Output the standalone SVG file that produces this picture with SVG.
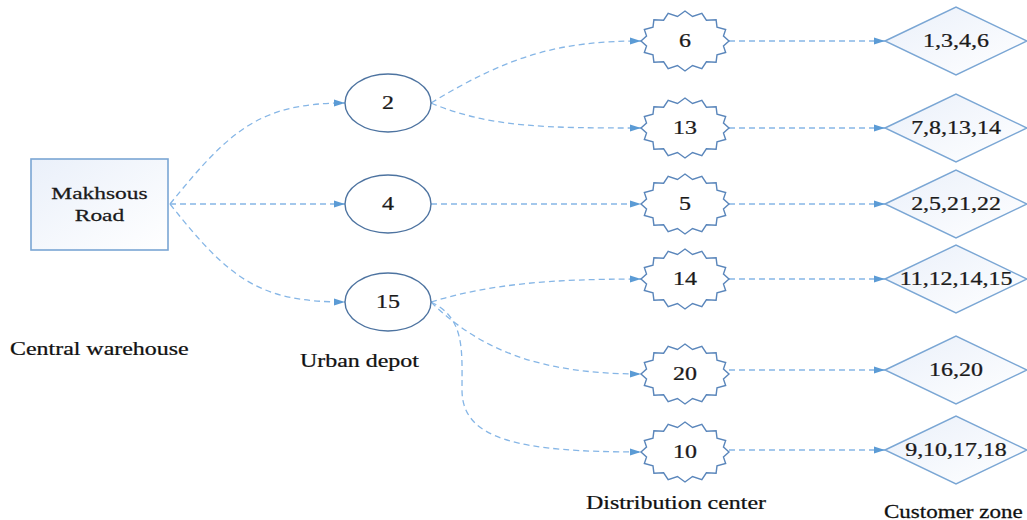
<svg xmlns="http://www.w3.org/2000/svg" width="1027" height="520" viewBox="0 0 1027 520">
<style>
.t{font-family:"Liberation Serif","Times New Roman",serif;font-size:18px;fill:#1a1a1a;stroke:#1a1a1a;stroke-width:0.25;text-anchor:middle}
.bt{font-family:"Liberation Serif","Times New Roman",serif;font-size:17px;fill:#1a1a1a;stroke:#1a1a1a;stroke-width:0.25;text-anchor:middle}
.lbl{font-family:"Liberation Serif","Times New Roman",serif;font-size:18px;fill:#111;stroke:#111;stroke-width:0.25}
.c{fill:none;stroke:#86b6e6;stroke-width:1.3;stroke-dasharray:6 4;marker-end:url(#ah)}
.box{fill:url(#g);stroke:#7aa6d4;stroke-width:1.6}
.dia{fill:url(#g);stroke:#7aa6d4;stroke-width:1.4}
.cir{fill:#fff;stroke:#4d73a0;stroke-width:1.4}
.star{fill:#fff;stroke:#5a86bb;stroke-width:1.4}
</style>
<defs>
<linearGradient id="g" x1="0" y1="0" x2="1" y2="1">
<stop offset="0" stop-color="#eaf0fa"/>
<stop offset="1" stop-color="#ffffff"/>
</linearGradient>
<marker id="ah" markerWidth="12" markerHeight="8" refX="11" refY="4" orient="auto" markerUnits="userSpaceOnUse">
<path d="M0,0.5 L11,4 L0,7.5 Z" fill="#5b9bd5"/>
</marker>
<polygon id="st" points="44,0 38.46,4.88 40.65,11.48 32.01,13.86 31.11,21.21 21.39,20.79 16.84,27.72 7.51,24.52 0,30 -7.51,24.52 -16.84,27.72 -21.39,20.79 -31.11,21.21 -32.01,13.86 -40.65,11.48 -38.46,4.88 -44,0 -38.46,-4.88 -40.65,-11.48 -32.01,-13.86 -31.11,-21.21 -21.39,-20.79 -16.84,-27.72 -7.51,-24.52 0,-30 7.51,-24.52 16.84,-27.72 21.39,-20.79 31.11,-21.21 32.01,-13.86 40.65,-11.48 38.46,-4.88"/>
<polygon id="dm" points="-71,0 0,-34 71,0 0,34"/>
</defs>
<rect width="1027" height="520" fill="#fff"/>

<g id="connectors">
<path class="c" d="M170,204 C230,130 260,103 345,103"/>
<path class="c" d="M170,204 L345,204"/>
<path class="c" d="M170,204 C230,280 260,302 345,302"/>
<path class="c" d="M431,103 C510,55 560,41 641,41"/>
<path class="c" d="M431,103 C490,128 550,128 641,128"/>
<path class="c" d="M431,204 L641,204"/>
<path class="c" d="M431,302 C490,284 550,279 641,279"/>
<path class="c" d="M431,302 C480,350 540,374 641,374"/>
<path class="c" d="M431,302 C465,318 462,350 462,390 C462,440 520,452 641,452"/>
<path class="c" d="M729,41 L885,41"/>
<path class="c" d="M729,128 L885,128"/>
<path class="c" d="M729,204 L885,204"/>
<path class="c" d="M729,279 L885,279"/>
<path class="c" d="M729,370 L885,370"/>
<path class="c" d="M729,450 L885,450"/>
</g>

<g id="warehouse">
<rect class="box" x="31" y="159" width="137" height="91"/>
<text class="bt" transform="translate(99.5,199) scale(1.38,1)">Makhsous</text>
<text class="bt" transform="translate(99.5,221) scale(1.38,1)">Road</text>
</g>

<g id="depot2"><ellipse class="cir" cx="388" cy="103" rx="43" ry="29"/><text class="t" transform="translate(388,109) scale(1.33,1)">2</text></g>
<g id="depot4"><ellipse class="cir" cx="388" cy="204" rx="43" ry="29"/><text class="t" transform="translate(388,210) scale(1.33,1)">4</text></g>
<g id="depot15"><ellipse class="cir" cx="388" cy="302" rx="43" ry="29"/><text class="t" transform="translate(388,308) scale(1.33,1)">15</text></g>

<g id="dc6"><use href="#st" class="star" x="685" y="41"/><text class="t" transform="translate(685,47) scale(1.33,1)">6</text></g>
<g id="dc13"><use href="#st" class="star" x="685" y="128"/><text class="t" transform="translate(685,134) scale(1.33,1)">13</text></g>
<g id="dc5"><use href="#st" class="star" x="685" y="204"/><text class="t" transform="translate(685,210) scale(1.33,1)">5</text></g>
<g id="dc14"><use href="#st" class="star" x="685" y="279"/><text class="t" transform="translate(685,285) scale(1.33,1)">14</text></g>
<g id="dc20"><use href="#st" class="star" x="685" y="374"/><text class="t" transform="translate(685,380) scale(1.33,1)">20</text></g>
<g id="dc10"><use href="#st" class="star" x="685" y="452"/><text class="t" transform="translate(685,458) scale(1.33,1)">10</text></g>

<g id="cz1"><use href="#dm" class="dia" x="956" y="41"/><text class="t" transform="translate(956,47) scale(1.33,1)">1,3,4,6</text></g>
<g id="cz2"><use href="#dm" class="dia" x="956" y="128"/><text class="t" transform="translate(956,134) scale(1.33,1)">7,8,13,14</text></g>
<g id="cz3"><use href="#dm" class="dia" x="956" y="204"/><text class="t" transform="translate(956,210) scale(1.33,1)">2,5,21,22</text></g>
<g id="cz4"><use href="#dm" class="dia" x="956" y="279"/><text class="t" transform="translate(956,285) scale(1.33,1)">11,12,14,15</text></g>
<g id="cz5"><use href="#dm" class="dia" x="956" y="370"/><text class="t" transform="translate(956,376) scale(1.33,1)">16,20</text></g>
<g id="cz6"><use href="#dm" class="dia" x="956" y="450"/><text class="t" transform="translate(956,456) scale(1.33,1)">9,10,17,18</text></g>

<g id="labels">
<text class="lbl" transform="translate(10,355) scale(1.33,1)">Central warehouse</text>
<text class="lbl" transform="translate(300,367) scale(1.33,1)">Urban depot</text>
<text class="lbl" transform="translate(586,509) scale(1.33,1)">Distribution center</text>
<text class="lbl" transform="translate(884,518) scale(1.28,1)">Customer zone</text>
</g>
</svg>
